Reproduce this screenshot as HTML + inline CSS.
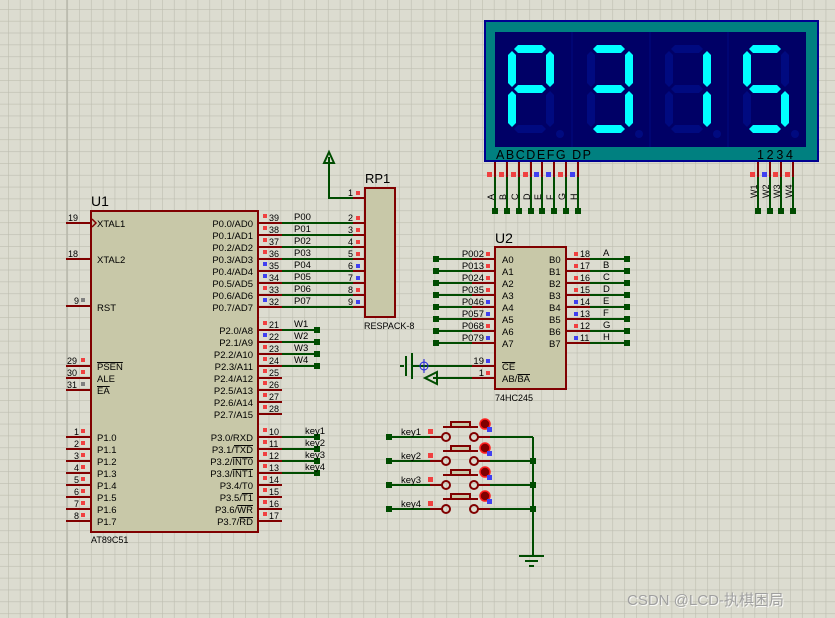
<!DOCTYPE html>
<html><head><meta charset="utf-8"><style>
html,body{margin:0;padding:0;width:835px;height:618px;overflow:hidden;background:#dcdcd0}
svg{display:block}
text{font-family:"Liberation Sans",Arial,sans-serif;fill:#000}
</style></head><body>
<svg width="835" height="618" viewBox="0 0 835 618" xmlns="http://www.w3.org/2000/svg">
<defs>
<pattern id="g" x="8" y="9" width="11.85" height="11.85" patternUnits="userSpaceOnUse">
<path d="M0 0H11.85M0 0V11.85" stroke="#bdbdb0" stroke-width="1.2" fill="none"/>
</pattern>
<polygon id="sh" points="0,0 4,-4 28,-4 32,0 28,4 4,4"/>
<polygon id="sv" points="0,0 -4,4 -4,32 0,36 4,32 4,4"/>
</defs>
<rect width="835" height="618" fill="#dcdcd0"/>
<rect width="835" height="618" fill="url(#g)"/>
<path d="M67 0V618" stroke="#b8b8ab" stroke-width="1.5"/>

<!-- U1 -->
<text x="91" y="206" font-size="14">U1</text>
<rect x="91" y="211" width="167" height="321" fill="#c8c8a8" stroke="#800000" stroke-width="2"/>
<text x="91" y="543" font-size="9">AT89C51</text>
<g stroke="#800000" stroke-width="2" fill="none">
<path d="M66 223H91M66 259H91M66 306H91M66 366H91M66 378H91M66 390H91"/>
<path d="M66 437H91M66 449H91M66 461H91M66 473H91M66 485H91M66 497H91M66 509H91M66 521H91"/>
<path d="M258 223H282M258 235H282M258 247H282M258 259H282M258 271H282M258 283H282M258 295H282M258 307H282"/>
<path d="M258 330H282M258 342H282M258 354H282M258 366H282M258 378H282M258 390H282M258 402H282M258 414H282"/>
<path d="M258 437H282M258 449H282M258 461H282M258 473H282M258 485H282M258 497H282M258 509H282M258 521H282"/>
</g>
<path d="M92 219L96 223L92 227" stroke="#800000" stroke-width="1.5" fill="none"/>
<g font-size="9">
<text x="68" y="221">19</text><text x="68" y="257">18</text><text x="74" y="304">9</text>
<text x="67" y="364">29</text><text x="67" y="376">30</text><text x="67" y="388">31</text>
<text x="74" y="435">1</text><text x="74" y="447">2</text><text x="74" y="459">3</text><text x="74" y="471">4</text><text x="74" y="483">5</text><text x="74" y="495">6</text><text x="74" y="507">7</text><text x="74" y="519">8</text>
</g>
<g>
<rect x="81" y="298" width="4" height="4" fill="#808080"/>
<rect x="81" y="358" width="4" height="4" fill="#f04040"/><rect x="81" y="370" width="4" height="4" fill="#f04040"/><rect x="81" y="382" width="4" height="4" fill="#808080"/>
<rect x="81" y="429" width="4" height="4" fill="#f04040"/><rect x="81" y="441" width="4" height="4" fill="#f04040"/><rect x="81" y="453" width="4" height="4" fill="#f04040"/><rect x="81" y="465" width="4" height="4" fill="#f04040"/><rect x="81" y="477" width="4" height="4" fill="#f04040"/><rect x="81" y="489" width="4" height="4" fill="#f04040"/><rect x="81" y="501" width="4" height="4" fill="#f04040"/><rect x="81" y="513" width="4" height="4" fill="#f04040"/>
</g>
<g font-size="9.5">
<text x="97" y="227">XTAL1</text><text x="97" y="263">XTAL2</text><text x="97" y="311">RST</text>
<text x="97" y="370" text-decoration="overline">PSEN</text><text x="97" y="382">ALE</text><text x="97" y="394" text-decoration="overline">EA</text>
<text x="97" y="441">P1.0</text><text x="97" y="453">P1.1</text><text x="97" y="465">P1.2</text><text x="97" y="477">P1.3</text><text x="97" y="489">P1.4</text><text x="97" y="501">P1.5</text><text x="97" y="513">P1.6</text><text x="97" y="525">P1.7</text>
</g>
<g font-size="9.5" text-anchor="end">
<text x="253" y="227">P0.0/AD0</text><text x="253" y="239">P0.1/AD1</text><text x="253" y="251">P0.2/AD2</text><text x="253" y="263">P0.3/AD3</text><text x="253" y="275">P0.4/AD4</text><text x="253" y="287">P0.5/AD5</text><text x="253" y="299">P0.6/AD6</text><text x="253" y="311">P0.7/AD7</text>
<text x="253" y="334">P2.0/A8</text><text x="253" y="346">P2.1/A9</text><text x="253" y="358">P2.2/A10</text><text x="253" y="370">P2.3/A11</text><text x="253" y="382">P2.4/A12</text><text x="253" y="394">P2.5/A13</text><text x="253" y="406">P2.6/A14</text><text x="253" y="418">P2.7/A15</text>
<text x="253" y="441">P3.0/RXD</text><text x="253" y="453">P3.1/<tspan text-decoration="overline">TXD</tspan></text><text x="253" y="465">P3.2/<tspan text-decoration="overline">INT0</tspan></text><text x="253" y="477">P3.3/<tspan text-decoration="overline">INT1</tspan></text><text x="253" y="489">P3.4/T0</text><text x="253" y="501">P3.5/<tspan text-decoration="overline">T1</tspan></text><text x="253" y="513">P3.6/<tspan text-decoration="overline">WR</tspan></text><text x="253" y="525">P3.7/<tspan text-decoration="overline">RD</tspan></text>
</g>
<g font-size="9">
<text x="269" y="221">39</text><text x="269" y="233">38</text><text x="269" y="245">37</text><text x="269" y="257">36</text><text x="269" y="269">35</text><text x="269" y="281">34</text><text x="269" y="293">33</text><text x="269" y="305">32</text>
<text x="269" y="328">21</text><text x="269" y="340">22</text><text x="269" y="352">23</text><text x="269" y="364">24</text><text x="269" y="376">25</text><text x="269" y="388">26</text><text x="269" y="400">27</text><text x="269" y="412">28</text>
<text x="269" y="435">10</text><text x="269" y="447">11</text><text x="269" y="459">12</text><text x="269" y="471">13</text><text x="269" y="483">14</text><text x="269" y="495">15</text><text x="269" y="507">16</text><text x="269" y="519">17</text>
</g>
<g>
<rect x="263" y="214" width="4" height="4" fill="#f04040"/><rect x="263" y="226" width="4" height="4" fill="#f04040"/><rect x="263" y="238" width="4" height="4" fill="#f04040"/><rect x="263" y="250" width="4" height="4" fill="#f04040"/><rect x="263" y="262" width="4" height="4" fill="#4040f0"/><rect x="263" y="274" width="4" height="4" fill="#4040f0"/><rect x="263" y="286" width="4" height="4" fill="#f04040"/><rect x="263" y="298" width="4" height="4" fill="#4040f0"/>
<rect x="263" y="321" width="4" height="4" fill="#f04040"/><rect x="263" y="333" width="4" height="4" fill="#4040f0"/><rect x="263" y="345" width="4" height="4" fill="#f04040"/><rect x="263" y="357" width="4" height="4" fill="#f04040"/><rect x="263" y="369" width="4" height="4" fill="#f04040"/><rect x="263" y="381" width="4" height="4" fill="#f04040"/><rect x="263" y="393" width="4" height="4" fill="#f04040"/><rect x="263" y="405" width="4" height="4" fill="#f04040"/>
<rect x="263" y="428" width="4" height="4" fill="#f04040"/><rect x="263" y="440" width="4" height="4" fill="#f04040"/><rect x="263" y="452" width="4" height="4" fill="#f04040"/><rect x="263" y="464" width="4" height="4" fill="#f04040"/><rect x="263" y="476" width="4" height="4" fill="#f04040"/><rect x="263" y="488" width="4" height="4" fill="#f04040"/><rect x="263" y="500" width="4" height="4" fill="#f04040"/><rect x="263" y="512" width="4" height="4" fill="#f04040"/>
</g>

<!-- P0 wires -->
<g stroke="#004c00" stroke-width="2" fill="none">
<path d="M282 223H355M282 235H355M282 247H355M282 259H355M282 271H355M282 283H355M282 295H355M282 307H355"/>
<path d="M282 330H317M282 342H317M282 354H317M282 366H317"/>
<path d="M282 437H317M282 449H317M282 461H317M282 473H317"/>
<path d="M355 198H329V157"/>
</g>
<path d="M329 152L324 163H334Z" fill="none" stroke="#004c00" stroke-width="2"/>
<g fill="#004c00"><rect x="314" y="327" width="6" height="6"/><rect x="314" y="339" width="6" height="6"/><rect x="314" y="351" width="6" height="6"/><rect x="314" y="363" width="6" height="6"/>
<rect x="314" y="434" width="6" height="6"/><rect x="314" y="446" width="6" height="6"/><rect x="314" y="458" width="6" height="6"/><rect x="314" y="470" width="6" height="6"/></g>
<g font-size="9.5">
<text x="294" y="220">P00</text><text x="294" y="232">P01</text><text x="294" y="244">P02</text><text x="294" y="256">P03</text><text x="294" y="268">P04</text><text x="294" y="280">P05</text><text x="294" y="292">P06</text><text x="294" y="304">P07</text>
<text x="294" y="327">W1</text><text x="294" y="339">W2</text><text x="294" y="351">W3</text><text x="294" y="363">W4</text>
<text x="305" y="434">key1</text><text x="305" y="446">key2</text><text x="305" y="458">key3</text><text x="305" y="470">key4</text>
</g>

<!-- RP1 -->
<text x="365" y="183" font-size="13">RP1</text>
<rect x="365" y="188" width="30" height="129" fill="#c8c8a8" stroke="#800000" stroke-width="2"/>
<g stroke="#800000" stroke-width="2"><path d="M353 198H365M353 223H365M353 235H365M353 247H365M353 259H365M353 271H365M353 283H365M353 295H365M353 307H365"/></g>
<g font-size="9"><text x="348" y="196">1</text><text x="348" y="221">2</text><text x="348" y="233">3</text><text x="348" y="245">4</text><text x="348" y="257">5</text><text x="348" y="269">6</text><text x="348" y="281">7</text><text x="348" y="293">8</text><text x="348" y="305">9</text></g>
<g><rect x="356" y="191" width="4" height="4" fill="#f04040"/><rect x="356" y="216" width="4" height="4" fill="#f04040"/><rect x="356" y="228" width="4" height="4" fill="#f04040"/><rect x="356" y="240" width="4" height="4" fill="#f04040"/><rect x="356" y="252" width="4" height="4" fill="#f04040"/><rect x="356" y="264" width="4" height="4" fill="#4040f0"/><rect x="356" y="276" width="4" height="4" fill="#4040f0"/><rect x="356" y="288" width="4" height="4" fill="#f04040"/><rect x="356" y="300" width="4" height="4" fill="#4040f0"/></g>
<text x="364" y="329" font-size="9">RESPACK-8</text>

<!-- U2 -->
<text x="495" y="243" font-size="14">U2</text>
<rect x="495" y="247" width="71" height="142" fill="#c8c8a8" stroke="#800000" stroke-width="2"/>
<text x="495" y="401" font-size="9">74HC245</text>
<g stroke="#004c00" stroke-width="2" fill="none">
<path d="M436 259H472M436 271H472M436 283H472M436 295H472M436 307H472M436 319H472M436 331H472M436 343H472"/>
<path d="M590 259H627M590 271H627M590 283H627M590 295H627M590 307H627M590 319H627M590 331H627M590 343H627"/>
<path d="M412 366H472M433 378H472"/>
<path d="M406 356V376M412 353V379M400 366H404"/>
</g>
<path d="M425 378L437 372V384Z" fill="none" stroke="#004c00" stroke-width="2"/>
<circle cx="424" cy="366" r="4" fill="none" stroke="#2020e0" stroke-width="1"/><path d="M424 359V373" stroke="#2020e0"/>
<g fill="#004c00"><rect x="433" y="256" width="6" height="6"/><rect x="433" y="268" width="6" height="6"/><rect x="433" y="280" width="6" height="6"/><rect x="433" y="292" width="6" height="6"/><rect x="433" y="304" width="6" height="6"/><rect x="433" y="316" width="6" height="6"/><rect x="433" y="328" width="6" height="6"/><rect x="433" y="340" width="6" height="6"/>
<rect x="624" y="256" width="6" height="6"/><rect x="624" y="268" width="6" height="6"/><rect x="624" y="280" width="6" height="6"/><rect x="624" y="292" width="6" height="6"/><rect x="624" y="304" width="6" height="6"/><rect x="624" y="316" width="6" height="6"/><rect x="624" y="328" width="6" height="6"/><rect x="624" y="340" width="6" height="6"/></g>
<g stroke="#800000" stroke-width="2"><path d="M472 259H495M472 271H495M472 283H495M472 295H495M472 307H495M472 319H495M472 331H495M472 343H495M472 366H495M472 378H495"/>
<path d="M566 259H590M566 271H590M566 283H590M566 295H590M566 307H590M566 319H590M566 331H590M566 343H590"/></g>
<g font-size="9.5" text-anchor="end"><text x="484" y="257">P002</text><text x="484" y="269">P013</text><text x="484" y="281">P024</text><text x="484" y="293">P035</text><text x="484" y="305">P046</text><text x="484" y="317">P057</text><text x="484" y="329">P068</text><text x="484" y="341">P079</text><text x="484" y="364">19</text><text x="484" y="376">1</text></g>
<g><rect x="486" y="252" width="4" height="4" fill="#f04040"/><rect x="486" y="264" width="4" height="4" fill="#f04040"/><rect x="486" y="276" width="4" height="4" fill="#f04040"/><rect x="486" y="288" width="4" height="4" fill="#f04040"/><rect x="486" y="300" width="4" height="4" fill="#4040f0"/><rect x="486" y="312" width="4" height="4" fill="#4040f0"/><rect x="486" y="324" width="4" height="4" fill="#f04040"/><rect x="486" y="336" width="4" height="4" fill="#4040f0"/><rect x="486" y="359" width="4" height="4" fill="#4040f0"/><rect x="486" y="371" width="4" height="4" fill="#f04040"/>
<rect x="574" y="252" width="4" height="4" fill="#f04040"/><rect x="574" y="264" width="4" height="4" fill="#f04040"/><rect x="574" y="276" width="4" height="4" fill="#f04040"/><rect x="574" y="288" width="4" height="4" fill="#f04040"/><rect x="574" y="300" width="4" height="4" fill="#4040f0"/><rect x="574" y="312" width="4" height="4" fill="#4040f0"/><rect x="574" y="324" width="4" height="4" fill="#f04040"/><rect x="574" y="336" width="4" height="4" fill="#4040f0"/></g>
<g font-size="9.5"><text x="502" y="263">A0</text><text x="502" y="275">A1</text><text x="502" y="287">A2</text><text x="502" y="299">A3</text><text x="502" y="311">A4</text><text x="502" y="323">A5</text><text x="502" y="335">A6</text><text x="502" y="347">A7</text><text x="502" y="370" text-decoration="overline">CE</text><text x="502" y="382">AB/<tspan text-decoration="overline">BA</tspan></text>
<text x="549" y="263">B0</text><text x="549" y="275">B1</text><text x="549" y="287">B2</text><text x="549" y="299">B3</text><text x="549" y="311">B4</text><text x="549" y="323">B5</text><text x="549" y="335">B6</text><text x="549" y="347">B7</text></g>
<g font-size="9"><text x="580" y="257">18</text><text x="580" y="269">17</text><text x="580" y="281">16</text><text x="580" y="293">15</text><text x="580" y="305">14</text><text x="580" y="317">13</text><text x="580" y="329">12</text><text x="580" y="341">11</text></g>
<g font-size="9.5"><text x="603" y="256">A</text><text x="603" y="268">B</text><text x="603" y="280">C</text><text x="603" y="292">D</text><text x="603" y="304">E</text><text x="603" y="316">F</text><text x="603" y="328">G</text><text x="603" y="340">H</text></g>

<!-- Display -->
<rect x="485" y="21" width="333" height="140" fill="#008080" stroke="#000090" stroke-width="2"/>
<rect x="495" y="32" width="311" height="115" fill="#000066"/>
<path d="M572 32V147M650 32V147M728 32V147" stroke="#000a80" stroke-width="1"/>
<text x="496" y="159" font-size="12.5" textLength="95" lengthAdjust="spacing">ABCDEFG DP</text>
<text x="757" y="159" font-size="12.5" textLength="36" lengthAdjust="spacing">1234</text>
<g stroke="#800000" stroke-width="2"><path d="M495 162V177M507 162V177M519 162V177M531 162V177M542 162V177M554 162V177M566 162V177M578 162V177M758 162V177M770 162V177M781 162V177M793 162V177"/></g>
<g stroke="#004c00" stroke-width="2"><path d="M495 177V211M507 177V211M519 177V211M531 177V211M542 177V211M554 177V211M566 177V211M578 177V211M758 177V211M770 177V211M781 177V211M793 177V211"/></g>
<g fill="#004c00"><rect x="492" y="208" width="6" height="6"/><rect x="504" y="208" width="6" height="6"/><rect x="516" y="208" width="6" height="6"/><rect x="528" y="208" width="6" height="6"/><rect x="539" y="208" width="6" height="6"/><rect x="551" y="208" width="6" height="6"/><rect x="563" y="208" width="6" height="6"/><rect x="575" y="208" width="6" height="6"/><rect x="755" y="208" width="6" height="6"/><rect x="767" y="208" width="6" height="6"/><rect x="778" y="208" width="6" height="6"/><rect x="790" y="208" width="6" height="6"/></g>
<g><rect x="487" y="172" width="5" height="5" fill="#f04040"/><rect x="499" y="172" width="5" height="5" fill="#f04040"/><rect x="511" y="172" width="5" height="5" fill="#f04040"/><rect x="523" y="172" width="5" height="5" fill="#f04040"/><rect x="534" y="172" width="5" height="5" fill="#4040f0"/><rect x="546" y="172" width="5" height="5" fill="#4040f0"/><rect x="558" y="172" width="5" height="5" fill="#f04040"/><rect x="570" y="172" width="5" height="5" fill="#4040f0"/>
<rect x="750" y="172" width="5" height="5" fill="#f04040"/><rect x="762" y="172" width="5" height="5" fill="#4040f0"/><rect x="773" y="172" width="5" height="5" fill="#f04040"/><rect x="785" y="172" width="5" height="5" fill="#f04040"/></g>
<g font-size="9">
<text transform="translate(494,200) rotate(-90)">A</text><text transform="translate(506,200) rotate(-90)">B</text><text transform="translate(518,200) rotate(-90)">C</text><text transform="translate(530,200) rotate(-90)">D</text><text transform="translate(541,200) rotate(-90)">E</text><text transform="translate(553,200) rotate(-90)">F</text><text transform="translate(565,200) rotate(-90)">G</text><text transform="translate(577,200) rotate(-90)">H</text>
<text transform="translate(757,198) rotate(-90)">W1</text><text transform="translate(769,198) rotate(-90)">W2</text><text transform="translate(780,198) rotate(-90)">W3</text><text transform="translate(792,198) rotate(-90)">W4</text>
</g>

<!-- digits: P, 3, 1, 5 -->
<g>
<g transform="translate(505,0)">
<use href="#sh" x="9" y="49" fill="#00ffff"/><use href="#sh" x="9" y="89" fill="#00ffff"/><use href="#sh" x="9" y="129" fill="#000a80"/>
<use href="#sv" x="7" y="51" fill="#00ffff"/><use href="#sv" x="7" y="91" fill="#00ffff"/><use href="#sv" x="45" y="51" fill="#00ffff"/><use href="#sv" x="45" y="91" fill="#000a80"/>
<circle cx="55" cy="134" r="4" fill="#000a80"/></g>
<g transform="translate(584,0)">
<use href="#sh" x="9" y="49" fill="#00ffff"/><use href="#sh" x="9" y="89" fill="#00ffff"/><use href="#sh" x="9" y="129" fill="#00ffff"/>
<use href="#sv" x="7" y="51" fill="#000a80"/><use href="#sv" x="7" y="91" fill="#000a80"/><use href="#sv" x="45" y="51" fill="#00ffff"/><use href="#sv" x="45" y="91" fill="#00ffff"/>
<circle cx="55" cy="134" r="4" fill="#000a80"/></g>
<g transform="translate(662,0)">
<use href="#sh" x="9" y="49" fill="#000a80"/><use href="#sh" x="9" y="89" fill="#000a80"/><use href="#sh" x="9" y="129" fill="#000a80"/>
<use href="#sv" x="7" y="51" fill="#000a80"/><use href="#sv" x="7" y="91" fill="#000a80"/><use href="#sv" x="45" y="51" fill="#00ffff"/><use href="#sv" x="45" y="91" fill="#00ffff"/>
<circle cx="55" cy="134" r="4" fill="#000a80"/></g>
<g transform="translate(740,0)">
<use href="#sh" x="9" y="49" fill="#00ffff"/><use href="#sh" x="9" y="89" fill="#00ffff"/><use href="#sh" x="9" y="129" fill="#00ffff"/>
<use href="#sv" x="7" y="51" fill="#00ffff"/><use href="#sv" x="7" y="91" fill="#000a80"/><use href="#sv" x="45" y="51" fill="#000a80"/><use href="#sv" x="45" y="91" fill="#00ffff"/>
<circle cx="55" cy="134" r="4" fill="#000a80"/></g>
</g>

<!-- Keys -->
<g stroke="#004c00" stroke-width="2" fill="none"><path d="M389 437H430M389 461H430M389 485H430M389 509H430M490 437H533M490 461H533M490 485H533M490 509H533M533 437V555"/>
<path d="M519 556H544M525 561H538M529 566H534"/></g>
<g fill="#004c00"><rect x="386" y="434" width="6" height="6"/><rect x="386" y="458" width="6" height="6"/><rect x="386" y="482" width="6" height="6"/><rect x="386" y="506" width="6" height="6"/><rect x="530" y="458" width="6" height="6"/><rect x="530" y="482" width="6" height="6"/><rect x="530" y="506" width="6" height="6"/></g>
<g stroke="#800000" stroke-width="2" fill="none">
<path d="M430 437H442M478 437H490M430 461H442M478 461H490M430 485H442M478 485H490M430 509H442M478 509H490"/>
<circle cx="446" cy="437" r="4"/><circle cx="474" cy="437" r="4"/><circle cx="446" cy="461" r="4"/><circle cx="474" cy="461" r="4"/><circle cx="446" cy="485" r="4"/><circle cx="474" cy="485" r="4"/><circle cx="446" cy="509" r="4"/><circle cx="474" cy="509" r="4"/>
<path d="M443 427H478M451 427V422H470V427" fill="#c8c8a8"/><path d="M443 451H478M451 451V446H470V451" fill="#c8c8a8"/><path d="M443 475H478M451 475V470H470V475" fill="#c8c8a8"/><path d="M443 499H478M451 499V494H470V499" fill="#c8c8a8"/>
</g>
<g><circle cx="485" cy="424" r="5" fill="#800000" stroke="#ff2020" stroke-width="1.5"/><circle cx="485" cy="448" r="5" fill="#800000" stroke="#ff2020" stroke-width="1.5"/><circle cx="485" cy="472" r="5" fill="#800000" stroke="#ff2020" stroke-width="1.5"/><circle cx="485" cy="496" r="5" fill="#800000" stroke="#ff2020" stroke-width="1.5"/>
<rect x="487" y="427" width="5" height="5" fill="#4040f0"/><rect x="487" y="451" width="5" height="5" fill="#4040f0"/><rect x="487" y="475" width="5" height="5" fill="#4040f0"/><rect x="487" y="499" width="5" height="5" fill="#4040f0"/>
<rect x="428" y="429" width="5" height="5" fill="#f04040"/><rect x="428" y="453" width="5" height="5" fill="#f04040"/><rect x="428" y="477" width="5" height="5" fill="#f04040"/><rect x="428" y="501" width="5" height="5" fill="#f04040"/></g>
<g font-size="9.5"><text x="401" y="435">key1</text><text x="401" y="459">key2</text><text x="401" y="483">key3</text><text x="401" y="507">key4</text></g>

<text x="628" y="606" font-size="15" style="font-family:'Liberation Sans','Noto Sans CJK SC',sans-serif;fill:#ffffff" opacity="0.8">CSDN @LCD-执棋困局</text>
<text x="627" y="605" font-size="15" style="font-family:'Liberation Sans','Noto Sans CJK SC',sans-serif;fill:#a0a0a0">CSDN @LCD-执棋困局</text>
</svg>
</body></html>
